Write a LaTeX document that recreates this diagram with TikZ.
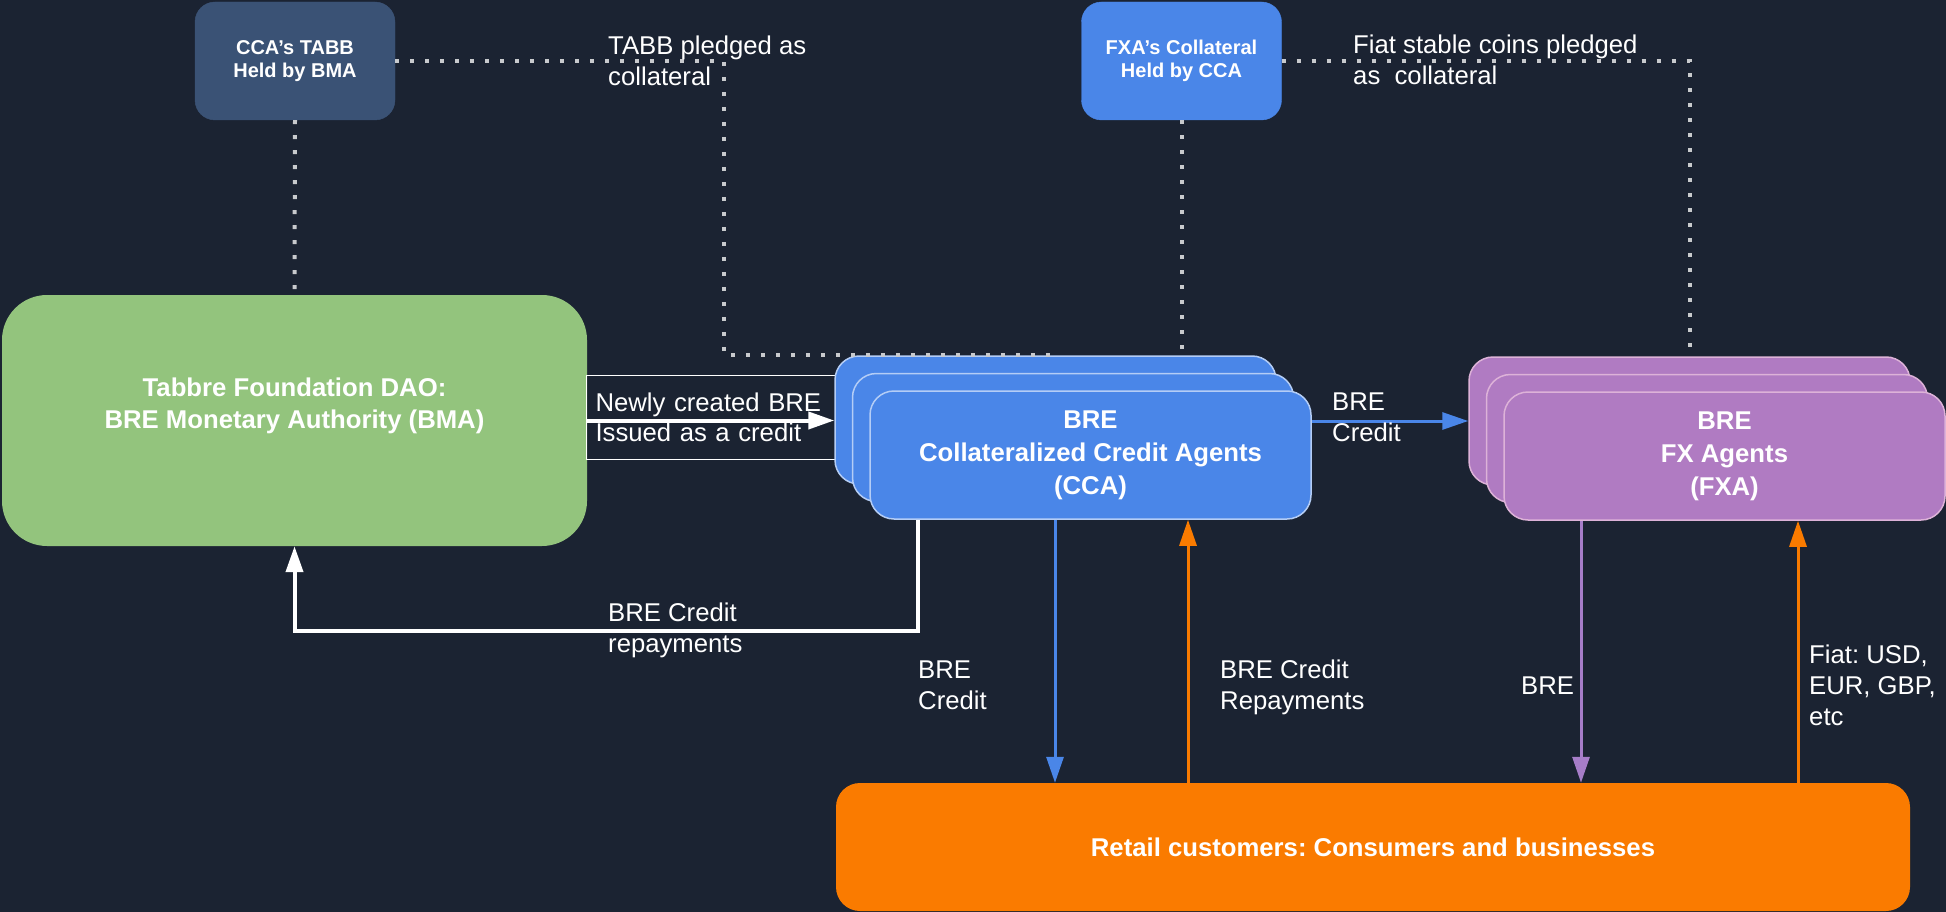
\documentclass[tikz,border=0pt]{standalone}
\usepackage{fontspec}
\setmainfont{Liberation Sans}
\usetikzlibrary{arrows.meta,positioning,calc}
\frenchspacing

\definecolor{bgcol}{HTML}{1B2332}
\definecolor{tabbcol}{HTML}{3A5275}
\definecolor{bluecol}{HTML}{4A86E8}
\definecolor{bluelight}{HTML}{B4CDF6}
\definecolor{greencol}{HTML}{93C47D}
\definecolor{purplecol}{HTML}{B07BC2}
\definecolor{purplelight}{HTML}{DDB2D8}
\definecolor{purplearrow}{HTML}{A67DC8}
\definecolor{orangecol}{HTML}{FA7B00}
\definecolor{dotcol}{HTML}{C8CACD}

\tikzset{
  lbl/.style={font=\fontsize{25.7pt}{31pt}\selectfont, text=white, align=left, anchor=base west, inner sep=0pt},
  agent/.style={rounded corners=24pt, minimum width=441pt, minimum height=128pt, line width=1.5pt,
    font=\bfseries\fontsize{25.7pt}{33pt}\selectfont, text=white, align=center},
  held/.style={rounded corners=20pt, minimum width=200pt, minimum height=118pt,
    font=\bfseries\fontsize{20pt}{23pt}\selectfont, text=white, align=center},
  pledge/.style={draw=dotcol, line width=4pt, dash pattern=on 4pt off 11pt},
  flow/.style={line width=3pt, -{Triangle[length=26pt,width=17pt]}}
}

\begin{document}
\begin{tikzpicture}[x=1pt,y=-1pt]
		\path[use as bounding box, fill=bgcol] (0,0) rectangle (1946,912);

		\node[held, fill=tabbcol, draw=tabbcol] (tabb) at (295,61) {CCA’s TABB\\Held by BMA};
		\node[held, fill=bluecol, draw=bluecol] (fxac) at (1181.5,61) {FXA’s Collateral\\Held by CCA};
		\node[rounded corners=45pt, fill=greencol, minimum width=585pt, minimum height=251pt, text depth=34pt,
			font=\bfseries\fontsize{25.7pt}{32pt}\selectfont, text=white, align=center] (bma) at (294.5,420.5)
			{Tabbre Foundation DAO:\\BRE Monetary Authority (BMA)};

		\node[draw=white, line width=1pt, anchor=north west, minimum height=84pt, text width=256pt, inner xsep=9pt,
			font=\fontsize{25.7pt}{30pt}\selectfont, text=white, align=left] (issued) at (586,375)
			{Newly created BRE\\Issued as a credit};

		\foreach \i in {2,1} {
			\node[agent, fill=bluecol, draw=bluelight] (cca\i) at (1090.5 - 17.5 * \i, 455 - 17.5 * \i) {};
			\node[agent, fill=purplecol, draw=purplelight] (fxa\i) at (1724.5 - 17.5 * \i, 456 - 17.5 * \i) {};
		}
		\node[agent, fill=bluecol, draw=bluelight] (cca) at (1090.5,455) {BRE\\Collateralized Credit Agents\\(CCA)};
		\node[agent, fill=purplecol, draw=purplelight] (fxa) at (1724.5,456) {BRE\\FX Agents\\(FXA)};
		\node[rounded corners=24pt, fill=orangecol, minimum width=1074pt, minimum height=128pt,
			font=\bfseries\fontsize{25.7pt}{31pt}\selectfont, text=white] (retail) at (1373,847)
			{Retail customers: Consumers and businesses};

		\coordinate (tabbturn) at (724,61);
		\draw[pledge] (tabb.south) -- (bma.north);
		\draw[pledge] (tabb.east) -- (tabbturn) |- (cca2.north);
		\draw[pledge] (fxac.south) -- (fxac.south |- cca2.north);
		\draw[pledge] (fxac.east) -| (fxa2.north);

		\coordinate (ccaout) at ($(cca.south) + (-35.5,0)$);
		\coordinate (ccain) at ($(cca.south) + (97.5,0)$);
		\coordinate (fxaout) at ($(fxa.south) + (-143.5,0)$);
		\coordinate (fxain) at ($(fxa.south) + (73.5,0)$);
		\coordinate (repay) at ($(cca.south) + (-172.5,0)$);

		\draw[flow, white, line width=4pt] (bma.east) -- (bma.east -| cca2.west);
		\draw[flow, bluecol] (cca.east |- fxa2.west) -- (fxa2.west);
		\draw[flow, white, line width=4pt] (repay) -- ++(0,111) -| (bma.south);
		\draw[flow, bluecol] (ccaout) -- (ccaout |- retail.north);
		\draw[flow, orangecol] (ccain |- retail.north) -- (ccain);
		\draw[flow, purplearrow] (fxaout) -- (fxaout |- retail.north);
		\draw[flow, orangecol] (fxain |- retail.north) -- (fxain);

		\node[lbl] (tabbnote) at (608,86) {TABB pledged as\\collateral};
		\node[lbl] (fiatnote) at (1353,85) {Fiat stable coins pledged\\as\ \ collateral};
		\node[lbl] (creditnote) at (1332,441) {BRE\\Credit};
		\node[lbl] (repaynote) at (608,652) {BRE Credit\\repayments};
		\node[lbl] (retailcredit) at (918,709) {BRE\\Credit};
		\node[lbl] (retailrepay) at (1220,709) {BRE Credit\\Repayments};
		\node[lbl] (brenote) at (1521,694) {BRE};
		\node[lbl] (fiatpaid) at (1809,725) {Fiat: USD,\\EUR, GBP,\\etc};
	\end{tikzpicture}
\end{document}
